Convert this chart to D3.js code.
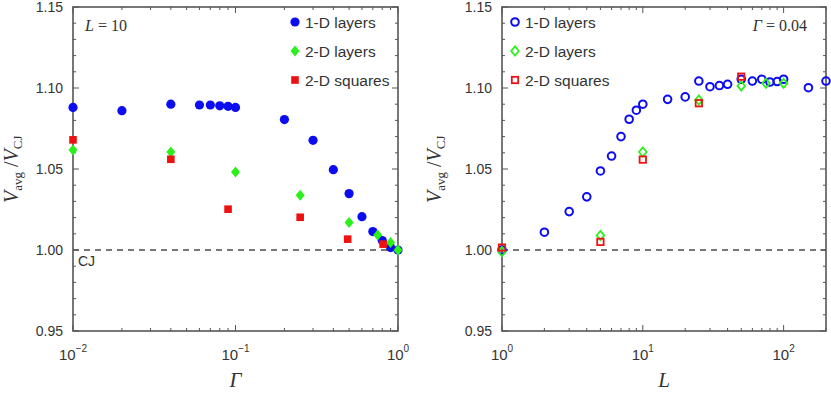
<!DOCTYPE html>
<html>
<head>
<meta charset="utf-8">
<script src="https://cdn.jsdelivr.net/npm/d3@7"></script>
<style>
  body { margin: 0; background: #fff; }
  text { font-family: "Liberation Sans", Arial, sans-serif; fill: #333; }
  .serif { font-family: "Liberation Serif", "Times New Roman", serif; }
</style>
</head>
<body>
<svg width="831" height="393"></svg>
<script>
// left panel: L = 10, x = Gamma
var gam1D = [0.01, 0.02, 0.04, 0.06, 0.07, 0.08, 0.09, 0.1, 0.2, 0.3, 0.4, 0.5, 0.6, 0.7, 0.8, 0.9, 1.0]
var v1D   = [1.088, 1.086, 1.090, 1.0895, 1.0895, 1.089, 1.0887, 1.088, 1.0805, 1.0677, 1.0496, 1.0348, 1.0206, 1.0114, 1.0058, 1.0015, 1.000]
var gam2D = [0.01, 0.04, 0.1, 0.25, 0.5, 0.75, 0.9, 1.0]
var v2D   = [1.0618, 1.0605, 1.0482, 1.0338, 1.0169, 1.0093, 1.0046, 1.000]
var gamSq = [0.01, 0.04, 0.09, 0.25, 0.49, 0.81]
var vSq   = [1.068, 1.056, 1.0252, 1.0202, 1.0067, 1.0036]

// right panel: Gamma = 0.04, x = L
var len1D = [1, 2, 3, 4, 5, 6, 7, 8, 9, 10, 15, 20, 25, 30, 35, 40, 50, 60, 70, 80, 90, 100, 150, 200]
var w1D   = [1.000, 1.011, 1.0237, 1.0328, 1.0488, 1.058, 1.070, 1.0807, 1.0863, 1.090, 1.093, 1.0945, 1.1043, 1.1008, 1.1015, 1.1023, 1.1054, 1.1043, 1.1054, 1.1037, 1.104, 1.1054, 1.1002, 1.1043]
var len2D = [1, 5, 10, 25, 50, 75, 100]
var w2D   = [0.999, 1.009, 1.0605, 1.0926, 1.1013, 1.1029, 1.1029]
var lenSq = [1, 5, 10, 25, 50]
var wSq   = [1.0015, 1.005, 1.0558, 1.0906, 1.107]

var yTicks = [0.95, 1.00, 1.05, 1.10, 1.15]
var seriesNames = ["1-D layers", "2-D layers", "2-D squares"]
var colors = ["#0c0cf0", "#2cf01c", "#ee1111"]

var svg = d3.select("svg")
var plotTop = 7, plotBottom = 331

var zip = function(xs, ys) {
    return xs.map(function(x, i) { return {x: x, y: ys[i]} })
}

var diamond = function(cx, cy, w, h) {
    return "M" + cx + "," + (cy - h) + "L" + (cx + w) + "," + cy + "L" + cx + "," + (cy + h) + "L" + (cx - w) + "," + cy + "Z"
}

var drawPanel = function(opt) {
    var g = svg.append("g")
    var xScale = d3.scaleLog().domain(opt.xDomain).range([opt.left, opt.right])
    var yScale = d3.scaleLinear().domain([0.95, 1.15]).range([plotBottom, plotTop])
    var axisColor = "#555"

    // dashed CJ line
    g.append("line")
        .attr("x1", opt.left).attr("x2", opt.right)
        .attr("y1", yScale(1)).attr("y2", yScale(1))
        .attr("stroke", "#777").attr("stroke-width", 1.8)
        .attr("stroke-dasharray", "6,5")

    // ticks on the x axes (bottom and top, inside)
    var xt = xScale.ticks()
    xt.forEach(function(t) {
        var major = Math.abs(Math.log10(t) - Math.round(Math.log10(t))) < 1e-9
        var len = major ? 6 : 3
        var x = xScale(t)
        g.append("line").attr("x1", x).attr("x2", x).attr("y1", plotBottom).attr("y2", plotBottom - len).attr("stroke", axisColor)
        g.append("line").attr("x1", x).attr("x2", x).attr("y1", plotTop).attr("y2", plotTop + len).attr("stroke", axisColor)
        if (major) {
            var e = Math.round(Math.log10(t))
            var lab = g.append("text").attr("x", x).attr("y", 360)
                .attr("text-anchor", "middle").style("font-size", "15px")
            lab.append("tspan").text("10")
            lab.append("tspan").attr("dy", -8).style("font-size", "10px").text(e < 0 ? "\u2212" + (-e) : e)
        }
    })

    // ticks on the y axes (left and right, inside)
    d3.range(95, 116).forEach(function(k) {
        var v = k / 100
        var major = k % 5 == 0
        var len = major ? 6 : 3
        var y = yScale(v)
        g.append("line").attr("x1", opt.left).attr("x2", opt.left + len).attr("y1", y).attr("y2", y).attr("stroke", axisColor)
        g.append("line").attr("x1", opt.right).attr("x2", opt.right - len).attr("y1", y).attr("y2", y).attr("stroke", axisColor)
    })
    yTicks.forEach(function(v) {
        g.append("text").attr("x", opt.left - 10).attr("y", yScale(v) + 5)
            .attr("text-anchor", "end").style("font-size", "14px").text(v.toFixed(2))
    })

    // frame
    g.append("rect")
        .attr("x", opt.left).attr("y", plotTop)
        .attr("width", opt.right - opt.left).attr("height", plotBottom - plotTop)
        .attr("fill", "none").attr("stroke", axisColor).attr("stroke-width", 1.6)

    // points
    var filled = opt.filled
    g.selectAll(".s0").data(zip(opt.s[0][0], opt.s[0][1])).enter()
        .append("circle")
        .attr("cx", function(p) { return xScale(p.x) })
        .attr("cy", function(p) { return yScale(p.y) })
        .attr("r", filled ? 4.6 : 3.8)
        .attr("fill", filled ? colors[0] : "none")
        .attr("stroke", colors[0]).attr("stroke-width", filled ? 0 : 2)
    g.selectAll(".s1").data(zip(opt.s[1][0], opt.s[1][1])).enter()
        .append("path")
        .attr("d", function(p) { return diamond(xScale(p.x), yScale(p.y), filled ? 4.5 : 3.8, filled ? 5.5 : 4.6) })
        .attr("fill", filled ? colors[1] : "none")
        .attr("stroke", colors[1]).attr("stroke-width", filled ? 0 : 1.8)
    g.selectAll(".s2").data(zip(opt.s[2][0], opt.s[2][1])).enter()
        .append("rect")
        .attr("x", function(p) { return xScale(p.x) - (filled ? 3.8 : 3.2) })
        .attr("y", function(p) { return yScale(p.y) - (filled ? 3.8 : 3.2) })
        .attr("width", filled ? 7.6 : 6.4).attr("height", filled ? 7.6 : 6.4)
        .attr("fill", filled ? colors[2] : "none")
        .attr("stroke", colors[2]).attr("stroke-width", filled ? 0 : 1.8)

    // legend
    seriesNames.forEach(function(name, i) {
        var ly = 22 + i * 29
        var lx = opt.legendX
        if (i == 0) {
            g.append("circle").attr("cx", lx).attr("cy", ly).attr("r", filled ? 4.6 : 3.8)
                .attr("fill", filled ? colors[0] : "none").attr("stroke", colors[0]).attr("stroke-width", filled ? 0 : 2)
        } else if (i == 1) {
            g.append("path").attr("d", diamond(lx, ly, filled ? 4.5 : 3.8, filled ? 5.5 : 4.6))
                .attr("fill", filled ? colors[1] : "none").attr("stroke", colors[1]).attr("stroke-width", filled ? 0 : 1.8)
        } else {
            var h = filled ? 3.8 : 3.2
            g.append("rect").attr("x", lx - h).attr("y", ly - h).attr("width", 2 * h).attr("height", 2 * h)
                .attr("fill", filled ? colors[2] : "none").attr("stroke", colors[2]).attr("stroke-width", filled ? 0 : 1.8)
        }
        g.append("text").attr("x", lx + 10).attr("y", ly + 5.5).style("font-size", "15.5px").text(name)
    })

    // y axis title
    var yt = g.append("text").attr("class", "serif")
        .attr("transform", "translate(" + opt.yTitleX + ",203) rotate(-90)")
        .style("font-size", "20px")
    yt.append("tspan").style("font-style", "italic").text("V")
    yt.append("tspan").attr("dy", 4).style("font-size", "13px").text("avg")
    yt.append("tspan").attr("dy", -4).text(" /")
    yt.append("tspan").style("font-style", "italic").text("V")
    yt.append("tspan").attr("dy", 4).style("font-size", "13px").text("CJ")

    // x axis title
    g.append("text").attr("class", "serif")
        .attr("x", (opt.left + opt.right) / 2).attr("y", 387)
        .attr("text-anchor", "middle")
        .style("font-size", "21px").style("font-style", "italic").text(opt.xTitle)

    return g
}

var left = drawPanel({
    left: 73, right: 398, xDomain: [0.01, 1], filled: true,
    s: [[gam1D, v1D], [gam2D, v2D], [gamSq, vSq]],
    legendX: 295, yTitleX: 18, xTitle: "\u0393"
})
left.append("text").attr("class", "serif").attr("x", 85).attr("y", 31)
    .style("font-size", "16px").html("<tspan font-style='italic'>L</tspan> = 10")
left.append("text").attr("x", 78).attr("y", 266).style("font-size", "14px").text("CJ")

var right = drawPanel({
    left: 502, right: 826, xDomain: [1, 200], filled: false,
    s: [[len1D, w1D], [len2D, w2D], [lenSq, wSq]],
    legendX: 515, yTitleX: 441, xTitle: "L"
})
right.append("text").attr("class", "serif").attr("x", 807).attr("y", 31)
    .attr("text-anchor", "end")
    .style("font-size", "16px").html("<tspan font-style='italic'>\u0393</tspan> = 0.04")
</script>
</body>
</html>
